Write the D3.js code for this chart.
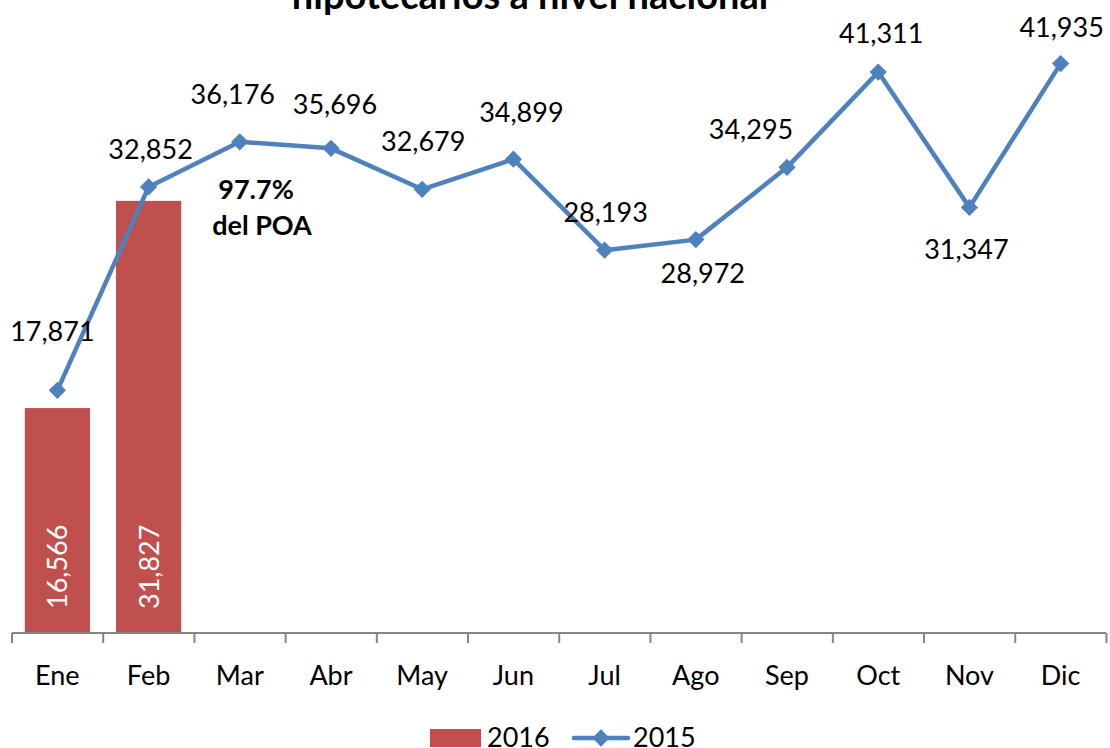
<!DOCTYPE html>
<html>
<head>
<meta charset="utf-8">
<script src="https://cdn.jsdelivr.net/npm/d3@7"></script>
<style>
  html, body { margin: 0; padding: 0; background: #fff; }
  svg { display: block; font-family: Lato, "Open Sans", sans-serif; }
</style>
</head>
<body>
<div id="chart"></div>
<script>
const months = ["Ene", "Feb", "Mar", "Abr", "May", "Jun", "Jul", "Ago", "Sep", "Oct", "Nov", "Dic"];
const values2016 = [16566, 31827];
const values2015 = [17871, 32852, 36176, 35696, 32679, 34899, 28193, 28972, 34295, 41311, 31347, 41935];
const seriesNames = ["2016", "2015"];
const title = "hipotecarios a nivel nacional";
const note = ["97.7%", "del POA"];

// label placement relative to each 2015 point (dx, dy of label centre)
const labelOffsets = [
  [-5, -59], [2, -37], [-7, -47], [4, -44], [1, -48], [8, -47],
  [1, -38], [7, 34], [-36, -38], [3, -39], [-3, 42], [1, -36]
];

const width = 1110;
const height = 748;
const blue = "#4F81BD";
const red = "#C0504D";
const fontSize = 27;

const x = d3.scaleBand().domain(months).range([12, 1106]).paddingInner(0.285).paddingOuter(0.14);
const y = d3.scaleLinear().domain([0, 45000]).range([633, 22]);
const cx = (m) => x(m) + x.bandwidth() / 2;

const svg = d3.select("#chart").append("svg")
  .attr("width", width)
  .attr("height", height)
  .attr("viewBox", `0 0 ${width} ${height}`);

svg.append("text")
  .attr("x", 530)
  .attr("y", 9)
  .attr("text-anchor", "middle")
  .attr("font-size", 38)
  .attr("font-weight", "bold")
  .text(title);

// bars 2016
const bars = svg.append("g");
bars.selectAll("rect")
  .data(values2016)
  .join("rect")
  .attr("x", (d, i) => x(months[i]))
  .attr("y", (d) => y(d))
  .attr("width", x.bandwidth())
  .attr("height", (d) => y(0) - y(d))
  .attr("fill", red);

bars.selectAll("text")
  .data(values2016)
  .join("text")
  .attr("transform", (d, i) => `translate(${cx(months[i]) + 10},${y(0) - 24}) rotate(-90)`)
  .attr("fill", "#fff")
  .attr("font-size", fontSize)
  .text((d) => d3.format(",")(d));

// x axis
const axis = svg.append("g").attr("transform", `translate(0,${y(0)})`);
axis.append("line").attr("x1", 12).attr("x2", 1106).attr("stroke", "#868686").attr("stroke-width", 2);
axis.selectAll("line.tick")
  .data(d3.range(months.length + 1))
  .join("line")
  .attr("class", "tick")
  .attr("x1", (i) => 12 + i * x.step())
  .attr("x2", (i) => 12 + i * x.step())
  .attr("y1", 0)
  .attr("y2", 10)
  .attr("stroke", "#868686")
  .attr("stroke-width", 2);
axis.selectAll("text")
  .data(months)
  .join("text")
  .attr("x", (d) => cx(d))
  .attr("y", 52)
  .attr("text-anchor", "middle")
  .attr("font-size", fontSize)
  .text((d) => d);

// line 2015
const line = d3.line().x((d, i) => cx(months[i])).y((d) => y(d));
svg.append("path")
  .datum(values2015)
  .attr("d", line)
  .attr("fill", "none")
  .attr("stroke", blue)
  .attr("stroke-width", 4.5)
  .attr("stroke-linejoin", "round");

const diamond = d3.symbol().type(d3.symbolDiamond2).size(190);
svg.append("g").selectAll("path")
  .data(values2015)
  .join("path")
  .attr("transform", (d, i) => `translate(${cx(months[i])},${y(d)})`)
  .attr("d", diamond)
  .attr("fill", blue);

svg.append("g").selectAll("text")
  .data(values2015)
  .join("text")
  .attr("x", (d, i) => cx(months[i]) + labelOffsets[i][0])
  .attr("y", (d, i) => y(d) + labelOffsets[i][1])
  .attr("dy", "0.35em")
  .attr("text-anchor", "middle")
  .attr("font-size", fontSize)
  .text((d) => d3.format(",")(d));

svg.append("g").selectAll("text")
  .data(note)
  .join("text")
  .attr("x", (d, i) => i === 0 ? 256 : 262)
  .attr("y", (d, i) => 190 + i * 36)
  .attr("dy", "0.35em")
  .attr("text-anchor", "middle")
  .attr("font-size", fontSize)
  .attr("font-weight", "bold")
  .text((d) => d);

// legend
const legend = svg.append("g").attr("transform", "translate(0,738)");
legend.append("rect").attr("x", 430).attr("y", -9).attr("width", 51).attr("height", 18).attr("fill", red);
legend.append("text").attr("x", 487).attr("y", 0).attr("dy", "0.35em").attr("font-size", fontSize).text(seriesNames[0]);
legend.append("line").attr("x1", 574).attr("x2", 628).attr("stroke", blue).attr("stroke-width", 4.5).attr("stroke-linecap", "round");
legend.append("path").attr("transform", "translate(601,0)").attr("d", diamond).attr("fill", blue);
legend.append("text").attr("x", 633).attr("y", 0).attr("dy", "0.35em").attr("font-size", fontSize).text(seriesNames[1]);
</script>
</body>
</html>
